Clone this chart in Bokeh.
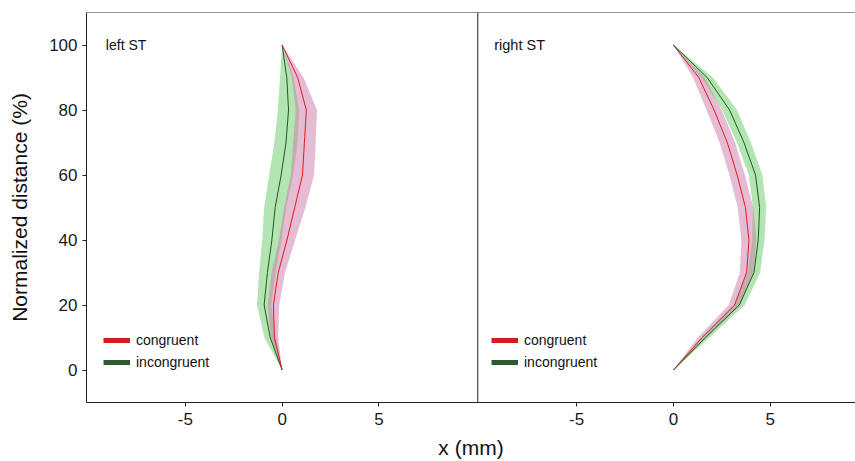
from bokeh.plotting import figure
from bokeh.models import (Range1d, FixedTicker, CustomJSTickFormatter, Span, Label,
                          Legend, LegendItem)
from bokeh.embed import file_html
from bokeh.resources import INLINE

# ---------------- data ----------------
y_levels = [0, 10, 20, 30, 40, 50, 60, 70, 80, 90, 100]

left_cong_mean = [0, -0.40, -0.45, -0.20, 0.25, 0.65, 1.05, 1.15, 1.25, 0.80, 0]
left_cong_sd = [0, 0.20, 0.30, 0.35, 0.42, 0.55, 0.60, 0.58, 0.55, 0.30, 0]
left_incong_mean = [0, -0.62, -0.93, -0.76, -0.53, -0.36, -0.05, 0.20, 0.33, 0.24, 0]
left_incong_sd = [0, 0.30, 0.37, 0.43, 0.50, 0.57, 0.62, 0.60, 0.55, 0.35, 0]

right_cong_mean = [0, 1.48, 3.16, 3.78, 3.90, 3.72, 3.29, 2.78, 2.10, 1.31, 0]
right_cong_sd = [0, 0.22, 0.30, 0.35, 0.39, 0.40, 0.40, 0.40, 0.39, 0.30, 0]
right_incong_mean = [0, 1.66, 3.40, 4.16, 4.38, 4.45, 4.24, 3.64, 2.90, 1.74, 0]
right_incong_sd = [0, 0.20, 0.28, 0.32, 0.32, 0.34, 0.35, 0.36, 0.38, 0.30, 0]

panel_names = ["left ST", "right ST"]
condition_labels = ["congruent", "incongruent"]
x_ticks = [-5, 0, 5]
y_ticks = [0, 20, 40, 60, 80, 100]

LEFT_LIM = (-10.1, 10.1)
RIGHT_LIM = (-10.1, 9.4)
Y_LIM = (-10, 110)

# ---------------- styling ----------------
FONT = "Liberation Sans"
RED_LINE = "#e8191e"
GREEN_LINE = "#1f5a1f"
RED_LEG = "#d7191c"
GREEN_LEG = "#2e5b2e"
PINK_FILL = "#cc79a7"
GREEN_FILL = "#66cc66"

left_span = LEFT_LIM[1] - LEFT_LIM[0]
right_span = RIGHT_LIM[1] - RIGHT_LIM[0]

p = figure(width=855, height=461, output_backend="svg", toolbar_location=None,
           x_range=Range1d(LEFT_LIM[0], LEFT_LIM[0] + left_span + right_span),
           y_range=Range1d(*Y_LIM),
           min_border_left=86, min_border_right=0, min_border_top=12, min_border_bottom=58,
           background_fill_color="white", border_fill_color="white")
p.extra_x_ranges = {"right": Range1d(RIGHT_LIM[0] - left_span, RIGHT_LIM[1])}
p.grid.visible = False
p.outline_line_color = None

def band(mean, sd, fill, rng):
    lo = [m - s for m, s in zip(mean, sd)]
    hi = [m + s for m, s in zip(mean, sd)]
    kw = {} if rng is None else {"x_range_name": rng}
    p.harea(y=y_levels, x1=lo, x2=hi, fill_color=fill, fill_alpha=0.5, **kw)

# left panel
band(left_incong_mean, left_incong_sd, GREEN_FILL, None)
band(left_cong_mean, left_cong_sd, PINK_FILL, None)
p.line(left_incong_mean, y_levels, line_color=GREEN_LINE, line_width=1)
p.line(left_cong_mean, y_levels, line_color=RED_LINE, line_width=1)

# right panel
band(right_incong_mean, right_incong_sd, GREEN_FILL, "right")
band(right_cong_mean, right_cong_sd, PINK_FILL, "right")
p.line(right_cong_mean, y_levels, line_color=RED_LINE, line_width=1, x_range_name="right")
p.line(right_incong_mean, y_levels, line_color=GREEN_LINE, line_width=1, x_range_name="right")

# frame lines
p.add_layout(Span(location=LEFT_LIM[1], dimension="height", line_color="#222222", line_width=1))
p.add_layout(Span(location=Y_LIM[1], dimension="width", line_color="#222222", line_width=1))

# panel labels
p.add_layout(Label(x=LEFT_LIM[0] + 1.0, y=100, text=panel_names[0], text_font=FONT,
                   text_font_size="14px", text_baseline="middle", text_color="#111111"))
p.add_layout(Label(x=RIGHT_LIM[0] + 0.85, y=100, text=panel_names[1], text_font=FONT,
                   text_font_size="14.5px", text_baseline="middle", text_color="#111111",
                   x_range_name="right"))

# legend glyph renderers (no visible data)
nan = float("nan")
leg_red = p.line([nan], [nan], line_color=RED_LEG, line_width=5)
leg_green = p.line([nan], [nan], line_color=GREEN_LEG, line_width=5)
for loc in [(17, 30), (405, 30)]:
    lg = Legend(items=[LegendItem(label=condition_labels[0], renderers=[leg_red]),
                       LegendItem(label=condition_labels[1], renderers=[leg_green])],
                location=loc, glyph_width=27, glyph_height=20, label_height=20,
                label_standoff=6, spacing=2, padding=0, margin=0,
                border_line_color=None, background_fill_alpha=0,
                label_text_font=FONT, label_text_font_size="14px", label_text_color="#111111")
    p.add_layout(lg)

# axes
offset = left_span
p.xaxis.ticker = FixedTicker(ticks=x_ticks + [t + offset for t in x_ticks])
p.xaxis.formatter = CustomJSTickFormatter(args=dict(split=LEFT_LIM[1], off=offset), code="""
    const v = tick > split ? tick - off : tick;
    return Math.round(v).toString();
""")
p.yaxis.ticker = FixedTicker(ticks=y_ticks)
for ax in [p.xaxis[0], p.yaxis[0]]:
    ax.axis_line_color = "#222222"
    ax.major_tick_line_color = "#222222"
    ax.major_tick_out = 4
    ax.major_tick_in = 0
    ax.minor_tick_line_color = None
    ax.major_label_text_font = FONT
    ax.major_label_text_font_size = "17px"
    ax.major_label_text_color = "#1a1a1a"
    ax.axis_label_text_font = FONT
    ax.axis_label_text_font_size = "21px"
    ax.axis_label_text_font_style = "normal"
    ax.axis_label_text_color = "#111111"
p.xaxis.axis_label = "x (mm)"
p.yaxis.axis_label = "Normalized distance (%)"
p.xaxis.major_label_standoff = 6
p.xaxis.axis_label_standoff = 8
p.yaxis.major_label_standoff = 5
p.yaxis.axis_label_standoff = 15

open("out.html", "w").write(file_html(p, INLINE))
